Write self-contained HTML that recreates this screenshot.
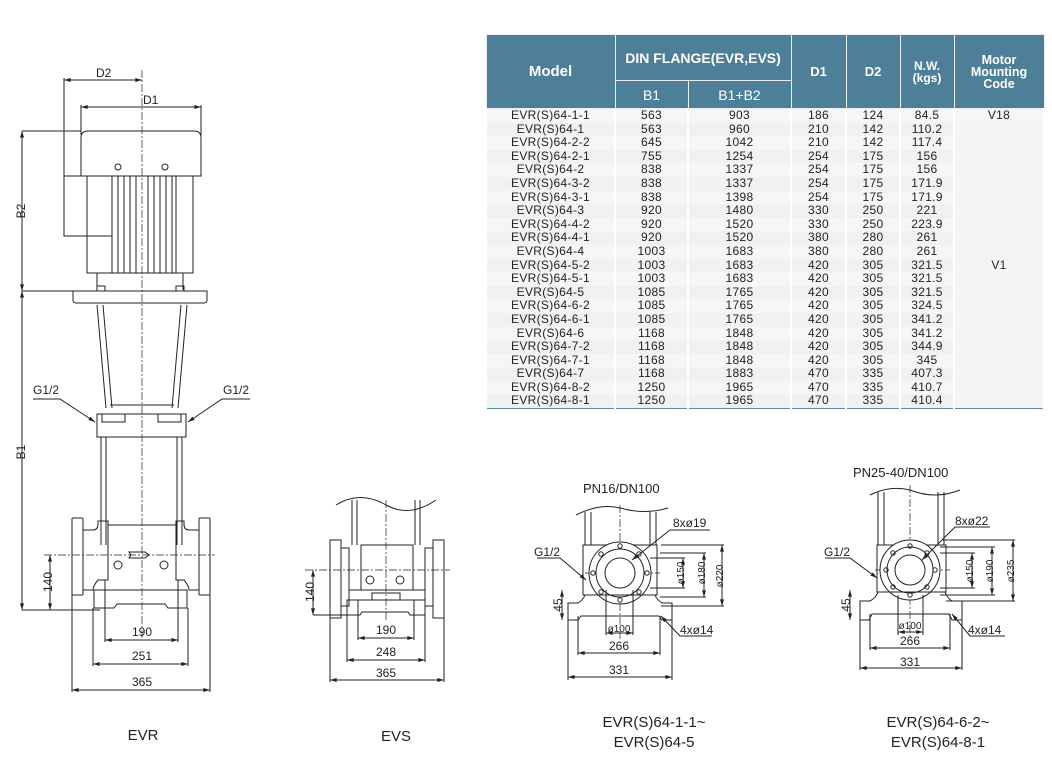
<!DOCTYPE html>
<html><head><meta charset="utf-8">
<style>
body{margin:0;background:#fff;width:1052px;height:770px;position:relative;overflow:hidden;font-family:"Liberation Sans",Arial,sans-serif;}
#tbl{position:absolute;left:485px;top:34px;width:558px;border-collapse:collapse;table-layout:fixed;border:1px solid #5b8aa3;}
#tbl th{background:#4d7f99;color:#fff;font-weight:bold;border:1px solid #e8eef2;padding:0;}
#tbl td{font-size:12px;letter-spacing:0.3px;line-height:13.6px;height:13.6px;padding:0;text-align:center;color:#222;border-left:2px solid #fff;border-right:2px solid #fff;background:#f1f1f1;}
#tbl tr:nth-child(odd) td{background:#f6f6f6;}
#tbl td.m{background:#f4f4f4;vertical-align:top;}
svg{position:absolute;left:0;top:0;}
svg text{font-family:"Liberation Sans",Arial,sans-serif;fill:#222;}
</style></head><body>
<table id="tbl">
<colgroup><col style="width:129px"><col style="width:73px"><col style="width:103px"><col style="width:55px"><col style="width:54px"><col style="width:54px"><col style="width:90px"></colgroup>
<tr style="height:46px"><th rowspan="2" style="font-size:15px">Model</th><th colspan="2" style="font-size:14px">DIN FLANGE(EVR,EVS)</th><th rowspan="2" style="font-size:13px">D1</th><th rowspan="2" style="font-size:13px">D2</th><th rowspan="2" style="font-size:12px;line-height:12px">N.W.<br>(kgs)</th><th rowspan="2" style="font-size:12.5px;line-height:12px">Motor<br>Mounting<br>Code</th></tr>
<tr style="height:28px"><th style="font-weight:normal;font-size:14px">B1</th><th style="font-weight:normal;font-size:14px">B1+B2</th></tr>
<tr><td>EVR(S)64-1-1</td><td>563</td><td>903</td><td>186</td><td>124</td><td>84.5</td><td class="m">V18</td></tr>
<tr><td>EVR(S)64-1</td><td>563</td><td>960</td><td>210</td><td>142</td><td>110.2</td><td class="m" rowspan="21" style="vertical-align:top;padding-top:136px">V1</td></tr>
<tr><td>EVR(S)64-2-2</td><td>645</td><td>1042</td><td>210</td><td>142</td><td>117.4</td></tr>
<tr><td>EVR(S)64-2-1</td><td>755</td><td>1254</td><td>254</td><td>175</td><td>156</td></tr>
<tr><td>EVR(S)64-2</td><td>838</td><td>1337</td><td>254</td><td>175</td><td>156</td></tr>
<tr><td>EVR(S)64-3-2</td><td>838</td><td>1337</td><td>254</td><td>175</td><td>171.9</td></tr>
<tr><td>EVR(S)64-3-1</td><td>838</td><td>1398</td><td>254</td><td>175</td><td>171.9</td></tr>
<tr><td>EVR(S)64-3</td><td>920</td><td>1480</td><td>330</td><td>250</td><td>221</td></tr>
<tr><td>EVR(S)64-4-2</td><td>920</td><td>1520</td><td>330</td><td>250</td><td>223.9</td></tr>
<tr><td>EVR(S)64-4-1</td><td>920</td><td>1520</td><td>380</td><td>280</td><td>261</td></tr>
<tr><td>EVR(S)64-4</td><td>1003</td><td>1683</td><td>380</td><td>280</td><td>261</td></tr>
<tr><td>EVR(S)64-5-2</td><td>1003</td><td>1683</td><td>420</td><td>305</td><td>321.5</td></tr>
<tr><td>EVR(S)64-5-1</td><td>1003</td><td>1683</td><td>420</td><td>305</td><td>321.5</td></tr>
<tr><td>EVR(S)64-5</td><td>1085</td><td>1765</td><td>420</td><td>305</td><td>321.5</td></tr>
<tr><td>EVR(S)64-6-2</td><td>1085</td><td>1765</td><td>420</td><td>305</td><td>324.5</td></tr>
<tr><td>EVR(S)64-6-1</td><td>1085</td><td>1765</td><td>420</td><td>305</td><td>341.2</td></tr>
<tr><td>EVR(S)64-6</td><td>1168</td><td>1848</td><td>420</td><td>305</td><td>341.2</td></tr>
<tr><td>EVR(S)64-7-2</td><td>1168</td><td>1848</td><td>420</td><td>305</td><td>344.9</td></tr>
<tr><td>EVR(S)64-7-1</td><td>1168</td><td>1848</td><td>420</td><td>305</td><td>345</td></tr>
<tr><td>EVR(S)64-7</td><td>1168</td><td>1883</td><td>470</td><td>335</td><td>407.3</td></tr>
<tr><td>EVR(S)64-8-2</td><td>1250</td><td>1965</td><td>470</td><td>335</td><td>410.7</td></tr>
<tr><td>EVR(S)64-8-1</td><td>1250</td><td>1965</td><td>470</td><td>335</td><td>410.4</td></tr>
</table>

<svg width="1052" height="770" viewBox="0 0 1052 770">
<defs>
<marker id="a" viewBox="0 0 10 6" refX="10" refY="3" markerWidth="8" markerHeight="4" orient="auto-start-reverse"><path d="M0,0L10,3L0,6z" fill="#222"/></marker>
</defs>
<g stroke="#222" stroke-width="1" fill="none">
<!-- ===== EVR ===== -->
<line x1="142" y1="70" x2="142" y2="640" stroke-dasharray="8,2,2,2" stroke-width="0.7"/>
<line x1="64" y1="80" x2="142" y2="80" marker-start="url(#a)" marker-end="url(#a)"/>
<line x1="64" y1="78" x2="64" y2="178"/>
<line x1="81" y1="107" x2="201" y2="107" marker-start="url(#a)" marker-end="url(#a)"/>
<line x1="81" y1="105" x2="81" y2="135"/><line x1="201" y1="105" x2="201" y2="135"/>
<path d="M81,176 L81,138 Q81,131 88,131 L194,131 Q201,131 201,138 L201,176 Z"/>
<rect x="64" y="176" width="48" height="60"/>
<rect x="87" y="176" width="106" height="97"/>
<line x1="112" y1="176" x2="112" y2="273"/><line x1="118" y1="176" x2="118" y2="273"/>
<line x1="124" y1="176" x2="124" y2="273"/><line x1="130" y1="176" x2="130" y2="273"/>
<line x1="136" y1="176" x2="136" y2="273"/><line x1="148" y1="176" x2="148" y2="273"/>
<line x1="154" y1="176" x2="154" y2="273"/><line x1="160" y1="176" x2="160" y2="273"/>
<line x1="166" y1="176" x2="166" y2="273"/><line x1="172" y1="176" x2="172" y2="273"/>
<line x1="176" y1="176" x2="176" y2="273"/>
<circle cx="118" cy="167" r="3"/><circle cx="165" cy="167" r="3"/>
<line x1="97" y1="273" x2="97" y2="290"/><line x1="183" y1="273" x2="183" y2="290"/>
<path d="M73,291 L207,291 L207,300 Q207,303 204,303 L76,303 Q73,303 73,300 Z"/>
<rect x="97" y="286" width="8" height="5"/><rect x="176" y="286" width="8" height="5"/>
<line x1="22" y1="291" x2="73" y2="291"/><line x1="22" y1="131" x2="81" y2="131"/>
<path d="M97,305 L106,408 M103,305 L112,408 M187,305 L178,408 M181,305 L172,408"/>
<path d="M110,405 L174,405"/>
<path d="M97,414 L186,414 L186,437 L97,437 Z"/>
<path d="M102,414 L102,422 L125,422 L125,414 M158,414 L158,422 L181,422 L181,414"/>
<path d="M101,437 L101,545 M106,437 L106,545 M177,437 L177,545 M182,437 L182,545"/>
<path d="M108,525 L176,525 M83,530 L93,530 Q98,530 98,524 L98,521 L108,521 L108,580 L98,580 Q93,586 93,590 L83,590 M199,530 L189,530 Q184,530 184,524 L184,521 L176,521 L176,580 L184,580 Q189,586 189,590 L199,590"/>
<rect x="72" y="518" width="11" height="77" rx="1"/><rect x="199" y="518" width="11" height="77" rx="1"/>
<circle cx="118" cy="565" r="4"/><circle cx="164" cy="565" r="4"/>
<path d="M129,552 L145,552 L149,555 L145,558 L129,558 L131,555 Z"/>
<line x1="44" y1="555" x2="215" y2="555" stroke-dasharray="8,2,2,2" stroke-width="0.7"/>
<path d="M94,590 L187,590 L187,608 L168,608 L165,604 L117,604 L114,608 L94,608 Z"/>
<line x1="22" y1="131" x2="22" y2="291" marker-start="url(#a)" marker-end="url(#a)"/>
<line x1="22" y1="291" x2="22" y2="610" marker-start="url(#a)" marker-end="url(#a)"/>
<line x1="22" y1="610" x2="100" y2="610"/>
<line x1="50" y1="555" x2="50" y2="610" marker-start="url(#a)" marker-end="url(#a)"/>
<line x1="105" y1="580" x2="105" y2="642"/><line x1="178" y1="580" x2="178" y2="642"/>
<line x1="105" y1="640" x2="178" y2="640" marker-start="url(#a)" marker-end="url(#a)"/>
<line x1="93" y1="608" x2="93" y2="666"/><line x1="188" y1="608" x2="188" y2="666"/>
<line x1="93" y1="664" x2="188" y2="664" marker-start="url(#a)" marker-end="url(#a)"/>
<line x1="72" y1="595" x2="72" y2="692"/><line x1="210" y1="595" x2="210" y2="692"/>
<line x1="72" y1="690" x2="210" y2="690" marker-start="url(#a)" marker-end="url(#a)"/>
<polyline points="33,399 60,399 95,422" marker-end="url(#a)"/>
<polyline points="250,399 222,399 188,422" marker-end="url(#a)"/>

<!-- ===== EVS ===== -->
<path d="M336,505 Q360,490 386,505 Q410,518 436,500"/>
<path d="M352,500 L352,545 M357,500 L357,545 M415,500 L415,545 M420,500 L420,545"/>
<line x1="386" y1="500" x2="386" y2="620" stroke-dasharray="8,2,2,2" stroke-width="0.7"/>
<rect x="330" y="540" width="11" height="78"/><rect x="433" y="540" width="11" height="78"/>
<path d="M341,548 L349,548 L349,606 L341,606 M433,548 L425,548 L425,606 L433,606"/>
<rect x="361" y="545" width="52" height="45"/>
<circle cx="370" cy="580" r="4"/><circle cx="400" cy="580" r="4"/>
<line x1="305" y1="570" x2="450" y2="570" stroke-dasharray="8,2,2,2" stroke-width="0.7"/>
<path d="M349,590 L425,590 L425,600 M347,600 L425,600 L425,615 L410,615 L408,612 L362,612 L360,615 L347,615 Z"/>
<rect x="372" y="593" width="28" height="7"/>
<line x1="313" y1="570" x2="313" y2="615" marker-start="url(#a)" marker-end="url(#a)"/>
<line x1="313" y1="615" x2="350" y2="615"/>
<line x1="358" y1="600" x2="358" y2="640"/><line x1="414" y1="600" x2="414" y2="640"/>
<line x1="358" y1="638" x2="414" y2="638" marker-start="url(#a)" marker-end="url(#a)"/>
<line x1="347" y1="615" x2="347" y2="662"/><line x1="425" y1="615" x2="425" y2="662"/>
<line x1="347" y1="660" x2="425" y2="660" marker-start="url(#a)" marker-end="url(#a)"/>
<line x1="330" y1="618" x2="330" y2="682"/><line x1="444" y1="618" x2="444" y2="682"/>
<line x1="330" y1="680" x2="444" y2="680" marker-start="url(#a)" marker-end="url(#a)"/>

<!-- ===== PN16 ===== -->
<path d="M576,515 Q600,503 620,508 Q645,515 668,508"/>
<path d="M585,512 L585,545 M591,512 L591,545 M650,512 L650,545 M656,512 L656,545"/>
<line x1="620" y1="505" x2="620" y2="640" stroke-dasharray="8,2,2,2" stroke-width="0.7"/>
<line x1="585" y1="573" x2="660" y2="573" stroke-dasharray="8,2,2,2" stroke-width="0.7"/>
<path d="M583,545 L657,545 L657,595 L583,595 Z"/>
<circle cx="620" cy="573" r="31" fill="#fff"/><circle cx="620" cy="573" r="24"/><circle cx="620" cy="573" r="15"/>
<circle cx="620" cy="546" r="2.2"/><circle cx="620" cy="600" r="2.2"/><circle cx="593" cy="573" r="2.2"/><circle cx="647" cy="573" r="2.2"/>
<circle cx="601" cy="554" r="2.2"/><circle cx="639" cy="554" r="2.2"/><circle cx="601" cy="592" r="2.2"/><circle cx="639" cy="592" r="2.2"/>
<path d="M568,620 L568,603 L578,603 Q583,600 585,595 L655,595 Q657,600 662,603 L672,603 L672,620 L662,620 L659,616 L581,616 L578,620 Z"/>
<line x1="661" y1="545" x2="724" y2="545"/><line x1="660" y1="553" x2="706" y2="553"/><line x1="650" y1="558" x2="685" y2="558"/>
<line x1="650" y1="588" x2="685" y2="588"/><line x1="660" y1="597" x2="706" y2="597"/><line x1="661" y1="606" x2="724" y2="606"/>
<line x1="683" y1="558" x2="683" y2="588" marker-start="url(#a)" marker-end="url(#a)"/>
<line x1="704" y1="553" x2="704" y2="597" marker-start="url(#a)" marker-end="url(#a)"/>
<line x1="722" y1="545" x2="722" y2="606" marker-start="url(#a)" marker-end="url(#a)"/>
<polyline points="710,530 670,530 632,560" marker-end="url(#a)"/>
<polyline points="537,558 560,558 586,580" marker-end="url(#a)"/>
<line x1="562" y1="590" x2="562" y2="620" marker-start="url(#a)" marker-end="url(#a)"/>
<line x1="606" y1="590" x2="606" y2="635"/><line x1="633" y1="590" x2="633" y2="635"/>
<line x1="606" y1="633" x2="633" y2="633" marker-start="url(#a)" marker-end="url(#a)"/>
<polyline points="712,636 680,636 661,616" marker-end="url(#a)"/>
<line x1="578" y1="616" x2="578" y2="655"/><line x1="660" y1="616" x2="660" y2="655"/>
<line x1="578" y1="653" x2="660" y2="653" marker-start="url(#a)" marker-end="url(#a)"/>
<line x1="568" y1="620" x2="568" y2="680"/><line x1="672" y1="620" x2="672" y2="680"/>
<line x1="568" y1="677" x2="672" y2="677" marker-start="url(#a)" marker-end="url(#a)"/>

<!-- ===== PN25 ===== -->
<path d="M870,495 Q890,485 910,490 Q935,500 960,490"/>
<path d="M878,492 L878,545 M884,492 L884,545 M938,492 L938,545 M944,492 L944,545"/>
<line x1="910" y1="485" x2="910" y2="640" stroke-dasharray="8,2,2,2" stroke-width="0.7"/>
<line x1="875" y1="570" x2="950" y2="570" stroke-dasharray="8,2,2,2" stroke-width="0.7"/>
<path d="M877,545 L946,545 L946,592 L877,592 Z"/>
<circle cx="910" cy="570" r="30" fill="#fff"/><circle cx="910" cy="570" r="23"/><circle cx="910" cy="570" r="15"/>
<circle cx="910" cy="546" r="2.2"/><circle cx="910" cy="595" r="2.2"/><circle cx="886" cy="570" r="2.2"/><circle cx="935" cy="570" r="2.2"/>
<circle cx="893" cy="553" r="2.2"/><circle cx="927" cy="553" r="2.2"/><circle cx="893" cy="587" r="2.2"/><circle cx="927" cy="587" r="2.2"/>
<path d="M860,620 L860,601 L870,601 Q876,598 878,592 L945,592 Q947,598 952,601 L962,601 L962,620 L952,620 L949,614 L872,614 L869,620 Z"/>
<line x1="943" y1="540" x2="1015" y2="540"/><line x1="940" y1="547" x2="995" y2="547"/><line x1="940" y1="553" x2="975" y2="553"/>
<line x1="940" y1="588" x2="975" y2="588"/><line x1="940" y1="595" x2="995" y2="595"/><line x1="946" y1="601" x2="1015" y2="601"/>
<line x1="972" y1="553" x2="972" y2="588" marker-start="url(#a)" marker-end="url(#a)"/>
<line x1="992" y1="547" x2="992" y2="595" marker-start="url(#a)" marker-end="url(#a)"/>
<line x1="1013" y1="540" x2="1013" y2="601" marker-start="url(#a)" marker-end="url(#a)"/>
<polyline points="990,527 955,527 922,560" marker-end="url(#a)"/>
<polyline points="825,558 850,558 877,578" marker-end="url(#a)"/>
<line x1="850" y1="590" x2="850" y2="620" marker-start="url(#a)" marker-end="url(#a)"/>
<line x1="898" y1="595" x2="898" y2="635"/><line x1="923" y1="595" x2="923" y2="635"/>
<line x1="898" y1="632" x2="923" y2="632" marker-start="url(#a)" marker-end="url(#a)"/>
<polyline points="1005,636 970,636 952,614" marker-end="url(#a)"/>
<line x1="870" y1="614" x2="870" y2="650"/><line x1="950" y1="614" x2="950" y2="650"/>
<line x1="870" y1="648" x2="950" y2="648" marker-start="url(#a)" marker-end="url(#a)"/>
<line x1="860" y1="620" x2="860" y2="670"/><line x1="962" y1="620" x2="962" y2="670"/>
<line x1="860" y1="668" x2="962" y2="668" marker-start="url(#a)" marker-end="url(#a)"/>
</g>

<g font-size="12">
<text x="96" y="77">D2</text><text x="143" y="104">D1</text>
<text x="18" y="218" transform="rotate(-90 18 211)" text-anchor="middle">B2</text>
<text x="18" y="459" transform="rotate(-90 18 452)" text-anchor="middle">B1</text>
<text x="46" y="588" transform="rotate(-90 46 582)" text-anchor="middle">140</text>
<text x="33" y="394">G1/2</text><text x="223" y="394">G1/2</text>
<text x="142" y="636" text-anchor="middle">190</text>
<text x="142" y="660" text-anchor="middle">251</text>
<text x="142" y="686" text-anchor="middle">365</text>
<text x="309" y="597" transform="rotate(-90 309 592)" text-anchor="middle">140</text>
<text x="386" y="634" text-anchor="middle">190</text>
<text x="386" y="656" text-anchor="middle">248</text>
<text x="386" y="677" text-anchor="middle">365</text>
<text x="583" y="493" font-size="13">PN16/DN100</text>
<text x="673" y="527">8xø19</text>
<text x="534" y="556">G1/2</text>
<text x="557" y="610" transform="rotate(-90 557 605)" text-anchor="middle">45</text>
<text x="619" y="632" text-anchor="middle" font-size="10">ø100</text>
<text x="680" y="634">4xø14</text>
<text x="619" y="650" text-anchor="middle">266</text>
<text x="619" y="674" text-anchor="middle">331</text>
<text x="681" y="576" transform="rotate(-90 681 573)" text-anchor="middle" font-size="10">ø150</text>
<text x="702" y="576" transform="rotate(-90 702 573)" text-anchor="middle" font-size="10">ø180</text>
<text x="720" y="579" transform="rotate(-90 720 576)" text-anchor="middle" font-size="10">ø220</text>
<text x="853" y="477" font-size="13">PN25-40/DN100</text>
<text x="955" y="525">8xø22</text>
<text x="824" y="556">G1/2</text>
<text x="845" y="610" transform="rotate(-90 845 605)" text-anchor="middle">45</text>
<text x="910" y="629" text-anchor="middle" font-size="10">ø100</text>
<text x="968" y="634">4xø14</text>
<text x="910" y="645" text-anchor="middle">266</text>
<text x="910" y="666" text-anchor="middle">331</text>
<text x="970" y="574" transform="rotate(-90 970 571)" text-anchor="middle" font-size="10">ø150</text>
<text x="990" y="574" transform="rotate(-90 990 571)" text-anchor="middle" font-size="10">ø190</text>
<text x="1011" y="574" transform="rotate(-90 1011 571)" text-anchor="middle" font-size="10">ø235</text>
</g>
<g font-size="15" text-anchor="middle">
<text x="143" y="740">EVR</text>
<text x="396" y="741">EVS</text>
<text x="654" y="727">EVR(S)64-1-1~</text>
<text x="654" y="747">EVR(S)64-5</text>
<text x="938" y="727">EVR(S)64-6-2~</text>
<text x="938" y="747">EVR(S)64-8-1</text>
</g>
</svg>
</body></html>
